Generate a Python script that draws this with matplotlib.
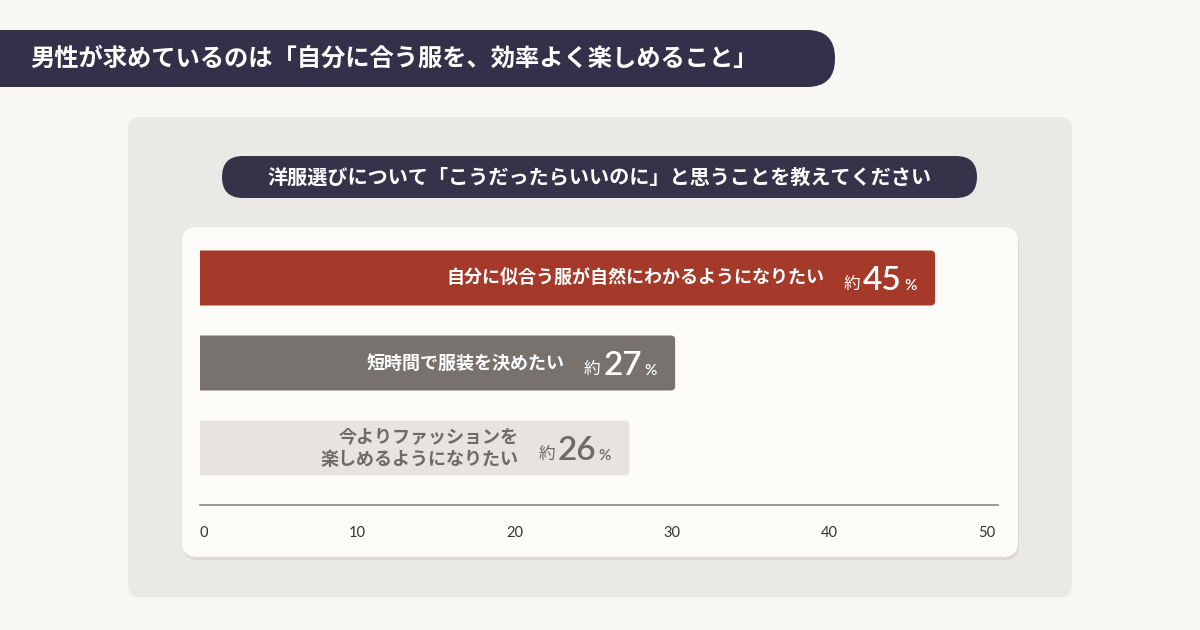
import matplotlib.pyplot as plt
from matplotlib.patches import FancyBboxPatch

plt.rcParams['font.family'] = ['Noto Sans CJK JP', 'DejaVu Sans']

# データ
title = "男性が求めているのは「自分に合う服を、効率よく楽しめること」"
subtitle = "洋服選びについて「こうだったらいいのに」と思うことを教えてください"
labels = ["自分に似合う服が自然にわかるようになりたい", "短時間で服装を決めたい", "今よりファッションを\n楽しめるようになりたい"]
bar_values = [46.7, 30.2, 27.3]      # 棒の長さ
pct_labels = ["45", "27", "26"]      # 表示されている割合
x_ticks = [0, 10, 20, 30, 40, 50]

bar_colors = ["#a5392a", "#77726e", "#e7e4e0"]
text_colors = ["white", "white", "#6e6a67"]

W, H = 1200, 630
fig = plt.figure(figsize=(W / 100, H / 100), dpi=100, facecolor="#f9f7f3")

# 背景（ピクセル座標）
bg = fig.add_axes([0, 0, 1, 1], zorder=0)
bg.set_xlim(0, W)
bg.set_ylim(H, 0)
bg.axis("off")


def rbox(x0, y0, x1, y1, r, color, **kw):
    p = FancyBboxPatch((x0, y0), x1 - x0, y1 - y0,
                       boxstyle=f"round,pad=0,rounding_size={r}",
                       facecolor=color, edgecolor="none", **kw)
    bg.add_patch(p)


rbox(-60, 30, 835, 87, 28, "#34304a")
bg.text(30, 59, title, color="white", fontsize=17.5, fontweight="bold",
        va="center", ha="left")

rbox(128, 117, 1072, 597, 12, "#ebe9e5")
rbox(222, 156, 977, 198, 21, "#36324a")
bg.text(600, 177, subtitle, color="white", fontsize=14.5, fontweight="bold",
        va="center", ha="center")

rbox(183, 230, 1019, 560, 15, "#dcd9d4")   # 影
rbox(182, 227, 1018, 557, 15, "#fdfbf8")

# グラフ本体
left, right = 199.5, 998
top, bottom = 230, 505
ax = fig.add_axes([left / W, 1 - bottom / H, (right - left) / W, (bottom - top) / H],
                  zorder=2)
ax.set_facecolor("none")
ax.set_xlim(0, (right - left) / 15.75)
ax.set_ylim(2 + (bottom - 448) / 85, -(278 - top) / 85)

num_font = ["Lato", "DejaVu Sans"]
base = -8.6   # 数字のベースライン（棒の中心からのずれ, pt）
bar_h = 55 / 85
for i, v in enumerate(bar_values):
    p = FancyBboxPatch((-2, i - bar_h / 2), v + 2, bar_h,
                       boxstyle="round,pad=0,rounding_size=0.28",
                       mutation_aspect=(4 / 85) / 0.28,
                       facecolor=bar_colors[i], edgecolor="none")
    ax.add_patch(p)

    c = text_colors[i]
    pct = ax.annotate("%", xy=(v, i), xytext=(-13.5, base), textcoords="offset points",
                      ha="right", va="baseline", color=c, fontsize=11,
                      family=num_font, fontweight="semibold")
    num = ax.annotate(pct_labels[i], xy=(0, i), xycoords=(pct, "data"),
                      xytext=(-1.5, base), textcoords="offset points",
                      ha="right", va="baseline", color=c, fontsize=24,
                      family=num_font, fontweight="semibold")
    yak = ax.annotate("約", xy=(0, i), xycoords=(num, "data"),
                      xytext=(-2, base + 0.5), textcoords="offset points",
                      ha="right", va="baseline", color=c, fontsize=12)
    ax.annotate(labels[i], xy=(0, i), xycoords=(yak, "data"), xytext=(-14, 0),
                textcoords="offset points", ha="right", va="center",
                color=c, fontsize=13, fontweight="bold",
                linespacing=1.3, multialignment="right")

for s in ["top", "right", "left"]:
    ax.spines[s].set_visible(False)
ax.spines["bottom"].set_color("#8c8783")
ax.spines["bottom"].set_linewidth(1.2)
ax.set_yticks([])
ax.set_xticks(x_ticks)
ax.set_xticklabels([str(t) for t in x_ticks], fontsize=10.5, color="#333333",
                   family=num_font)
ax.get_xticklabels()[0].set_horizontalalignment("left")
ax.tick_params(axis="x", length=0, pad=15)

fig.savefig("out.png", dpi=100, facecolor=fig.get_facecolor())
